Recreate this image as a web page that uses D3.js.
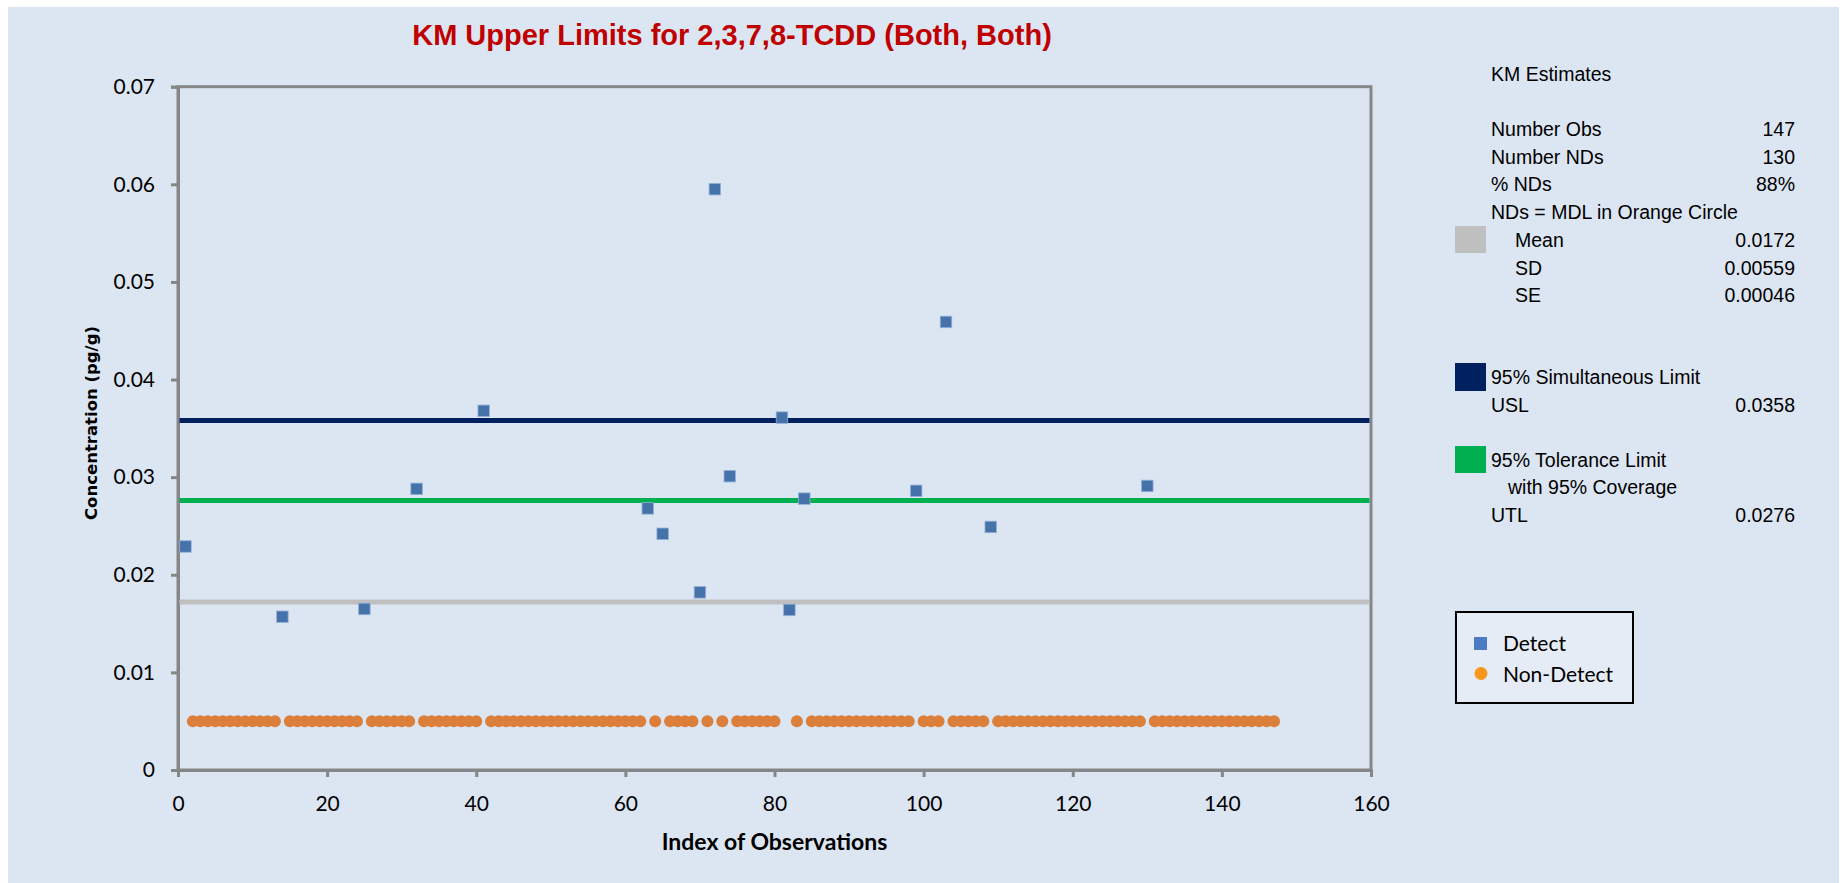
<!DOCTYPE html>
<html>
<head>
<meta charset="utf-8">
<script src="https://cdn.jsdelivr.net/npm/d3@7"></script>
<style>
  html, body { margin: 0; padding: 0; background: #ffffff; }
  svg { display: block; }
</style>
</head>
<body>
<svg id="chart" width="1843" height="883"></svg>
<script>
// Detects (blue squares)
const detectIdx = [1, 14, 25, 32, 41, 63, 65, 70, 72, 74, 81, 82, 84, 99, 103, 109, 130];
const detectVal = [0.0229, 0.0157, 0.0165, 0.0288, 0.0368, 0.0268, 0.0242, 0.0182, 0.0595,
                   0.0301, 0.0361, 0.0164, 0.0278, 0.0286, 0.0459, 0.0249, 0.0291];

// Non-detects, plotted at the MDL (orange circles)
const ndIdx = [
  2, 3, 4, 5, 6, 7, 8, 9, 10, 11, 12, 13,
  15, 16, 17, 18, 19, 20, 21, 22, 23, 24,
  26, 27, 28, 29, 30, 31,
  33, 34, 35, 36, 37, 38, 39, 40,
  42, 43, 44, 45, 46, 47, 48, 49, 50, 51, 52, 53, 54, 55, 56, 57, 58, 59, 60, 61, 62,
  64,
  66, 67, 68, 69,
  71, 73,
  75, 76, 77, 78, 79, 80,
  83,
  85, 86, 87, 88, 89, 90, 91, 92, 93, 94, 95, 96, 97, 98,
  100, 101, 102,
  104, 105, 106, 107, 108,
  110, 111, 112, 113, 114, 115, 116, 117, 118, 119, 120, 121, 122, 123, 124, 125, 126, 127, 128, 129,
  131, 132, 133, 134, 135, 136, 137, 138, 139, 140, 141, 142, 143, 144, 145, 146, 147
];
const ndMdl = 0.005;

// reference lines
const limitNames = ["USL", "UTL", "Mean"];
const limitVals = [0.0358, 0.0276, 0.0172];
const limitCols = ["#002060", "#00b050", "#bfbfbf"];

const xTicks = [0, 20, 40, 60, 80, 100, 120, 140, 160];
const yTicks = [0, 0.01, 0.02, 0.03, 0.04, 0.05, 0.06, 0.07];

// side panel rows: [label, value, indent]
const statRows = [
  ["Number Obs", "147", 0],
  ["Number NDs", "130", 0],
  ["% NDs", "88%", 0],
  ["NDs = MDL in Orange Circle", "", 0],
  ["Mean", "0.0172", 24],
  ["SD", "0.00559", 24],
  ["SE", "0.00046", 24]
];

const svg = d3.select("#chart");
const W = 1843, H = 883;

svg.append("rect")
  .attr("x", 8).attr("y", 7)
  .attr("width", 1831).attr("height", H - 7)
  .attr("fill", "#dce6f2");

const x = d3.scaleLinear().domain([0, 160]).range([178, 1371]);
const y = d3.scaleLinear().domain([0, 0.07]).range([770, 86.7]);

const axisCol = "#868686";

// Title
svg.append("text")
  .attr("x", 732).attr("y", 45)
  .attr("text-anchor", "middle")
  .attr("font-family", "Liberation Sans, Arial, sans-serif")
  .attr("font-weight", "bold")
  .attr("font-size", 29)
  .attr("fill", "#c00000")
  .text("KM Upper Limits for 2,3,7,8-TCDD (Both, Both)");

// plot border
svg.append("rect")
  .attr("x", x(0)).attr("y", y(0.07))
  .attr("width", x(160) - x(0)).attr("height", y(0) - y(0.07))
  .attr("fill", "none")
  .attr("stroke", axisCol)
  .attr("stroke-width", 3);

// axes
const tickFont = "Lato, 'Open Sans', sans-serif";

const gy = svg.append("g")
  .attr("transform", `translate(${x(0)},0)`)
  .call(d3.axisLeft(y).tickValues(yTicks).tickSize(7).tickPadding(16)
    .tickFormat(d => d === 0 ? "0" : d3.format(".2f")(d)));

const gx = svg.append("g")
  .attr("transform", `translate(0,${y(0)})`)
  .call(d3.axisBottom(x).tickValues(xTicks).tickSize(7).tickPadding(19));

[gx, gy].forEach(g => {
  g.select(".domain").attr("stroke", axisCol).attr("stroke-width", 3);
  g.selectAll(".tick line").attr("stroke", axisCol).attr("stroke-width", 3);
  g.selectAll(".tick text")
    .attr("font-family", tickFont)
    .attr("font-size", 21)
    .attr("fill", "#000");
});

// axis titles
svg.append("text")
  .attr("x", x(80)).attr("y", 850)
  .attr("text-anchor", "middle")
  .attr("font-family", tickFont)
  .attr("font-weight", "bold")
  .attr("font-size", 23)
  .attr("fill", "#000")
  .text("Index of Observations");

svg.append("text")
  .attr("transform", "translate(97,423) rotate(-90)")
  .attr("text-anchor", "middle")
  .attr("font-family", "DejaVu Sans, Verdana, sans-serif")
  .attr("font-weight", "bold")
  .attr("font-size", 16.5)
  .attr("fill", "#000")
  .text("Concentration (pg/g)");

// limit lines
svg.append("g")
  .selectAll("line")
  .data(limitVals)
  .join("line")
  .attr("x1", x(0) + 1.5)
  .attr("x2", x(160) - 1.5)
  .attr("y1", d => y(d))
  .attr("y2", d => y(d))
  .attr("stroke", (d, i) => limitCols[i])
  .attr("stroke-width", 5);

// non-detects
svg.append("g")
  .selectAll("circle")
  .data(ndIdx)
  .join("circle")
  .attr("cx", d => x(d))
  .attr("cy", y(ndMdl))
  .attr("r", 6)
  .attr("fill", "#dc7f3a");

// detects
const sq = 11.5;
svg.append("g")
  .selectAll("rect")
  .data(detectIdx.map((d, i) => [d, detectVal[i]]))
  .join("rect")
  .attr("x", d => x(d[0]) - sq / 2)
  .attr("y", d => y(d[1]) - sq / 2)
  .attr("width", sq)
  .attr("height", sq)
  .attr("fill", "#4672aa")
  .attr("stroke", "#93b1d8")
  .attr("stroke-width", 0.8);

// side panel
const panelFont = "Liberation Sans, Arial, sans-serif";
const labX = 1491, valX = 1795;
const panel = svg.append("g")
  .attr("font-family", panelFont)
  .attr("font-size", 19.5)
  .attr("fill", "#000");

panel.append("text").attr("x", labX).attr("y", 81).text("KM Estimates");

const rowY0 = 136, rowStep = 27.7;
statRows.forEach((r, i) => {
  const yy = rowY0 + i * rowStep;
  panel.append("text").attr("x", labX + r[2]).attr("y", yy).text(r[0]);
  if (r[1]) panel.append("text").attr("x", valX).attr("y", yy)
    .attr("text-anchor", "end").text(r[1]);
});

// swatches
const swatches = [
  { y: 226, h: 27, col: limitCols[2] },
  { y: 363, h: 28, col: limitCols[0] },
  { y: 446, h: 27, col: limitCols[1] }
];
svg.append("g")
  .selectAll("rect")
  .data(swatches)
  .join("rect")
  .attr("x", 1455).attr("y", d => d.y)
  .attr("width", 31).attr("height", d => d.h)
  .attr("fill", d => d.col);

panel.append("text").attr("x", labX).attr("y", 384).text("95% Simultaneous Limit");
panel.append("text").attr("x", labX).attr("y", 412).text("USL");
panel.append("text").attr("x", valX).attr("y", 412).attr("text-anchor", "end").text("0.0358");
panel.append("text").attr("x", labX).attr("y", 467).text("95% Tolerance Limit");
panel.append("text").attr("x", 1508).attr("y", 494).text("with 95% Coverage");
panel.append("text").attr("x", labX).attr("y", 522).text("UTL");
panel.append("text").attr("x", valX).attr("y", 522).attr("text-anchor", "end").text("0.0276");

// legend box
const leg = svg.append("g");
leg.append("rect")
  .attr("x", 1456).attr("y", 612)
  .attr("width", 177).attr("height", 91)
  .attr("fill", "#e5ecf6")
  .attr("stroke", "#000")
  .attr("stroke-width", 2);
leg.append("rect")
  .attr("x", 1474).attr("y", 637)
  .attr("width", 13).attr("height", 13)
  .attr("fill", "#4a7bc4");
leg.append("circle")
  .attr("cx", 1481).attr("cy", 673.5)
  .attr("r", 6.5)
  .attr("fill", "#f7981d");
leg.selectAll("text")
  .data(["Detect", "Non-Detect"])
  .join("text")
  .attr("x", 1503)
  .attr("y", (d, i) => 651 + i * 31)
  .attr("font-family", tickFont)
  .attr("font-size", 21)
  .attr("fill", "#000")
  .text(d => d);
</script>
</body>
</html>
